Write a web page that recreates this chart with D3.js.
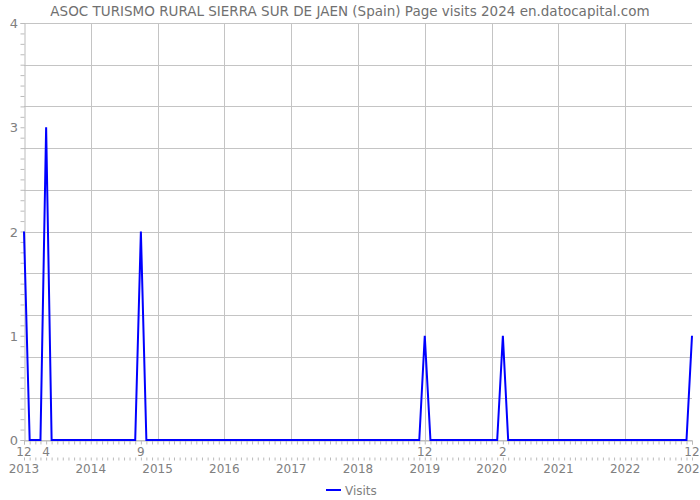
<!DOCTYPE html>
<html><head><meta charset="utf-8">
<script src="https://cdn.jsdelivr.net/npm/d3@7"></script>
<style>body{margin:0;background:#fff}svg{display:block}</style>
</head><body><svg id="c" width="700" height="500"></svg>
<script>
const title = "ASOC TURISMO RURAL SIERRA SUR DE JAEN (Spain) Page visits 2024 en.datocapital.com";
const seriesName = "Visits";
const startMonth = "2012-12";
// monthly visits Dec 2012 .. Dec 2022
const visits = [
  2,0,0,0,3,0,0,0,0,0,0,0,
  0,0,0,0,0,0,0,0,0,2,0,0,
  0,0,0,0,0,0,0,0,0,0,0,0,
  0,0,0,0,0,0,0,0,0,0,0,0,
  0,0,0,0,0,0,0,0,0,0,0,0,
  0,0,0,0,0,0,0,0,0,0,0,0,
  1,0,0,0,0,0,0,0,0,0,0,0,
  0,0,1,0,0,0,0,0,0,0,0,0,
  0,0,0,0,0,0,0,0,0,0,0,0,
  0,0,0,0,0,0,0,0,0,0,0,0,
  1
];
const yearLabels = ["2013","2014","2015","2016","2017","2018","2019","2020","2021","2022","2023"];
const yTickLabels = [0,1,2,3,4];

const FONT = "'DejaVu Sans', sans-serif";
const svg = d3.select("#c");
const L = 24, R = 692, T = 23, B = 440;

const start = d3.timeParse("%Y-%m")(startMonth);
const data = visits.map((v, i) => ({date: d3.timeMonth.offset(start, i), value: v}));
const end = data[data.length - 1].date;

const x = d3.scaleTime().domain([start, end]).range([L, R]);
const y = d3.scaleLinear().domain([0, 4]).range([B, T]);

// year positions (label year Y placed at December of Y-1)
const yearDates = yearLabels.map(s => new Date(+s - 1, 11, 1));

// horizontal grid
const hGrid = d3.range(0, 11).map(i => i * 0.4);
svg.append("g").selectAll("line").data(hGrid).join("line")
  .attr("x1", L).attr("x2", R)
  .attr("y1", d => Math.round(y(d)) + 0.5).attr("y2", d => Math.round(y(d)) + 0.5)
  .attr("stroke", "#c4c4c4").attr("stroke-width", 1);

// vertical grid
svg.append("g").selectAll("line").data(yearDates.slice(1, -1)).join("line")
  .attr("x1", d => Math.round(x(d)) + 0.5).attr("x2", d => Math.round(x(d)) + 0.5)
  .attr("y1", T).attr("y2", B)
  .attr("stroke", "#c4c4c4").attr("stroke-width", 1);

// y axis
const yAxis = d3.axisLeft(y).tickValues(d3.range(0, 41).map(i => i / 10)).tickSize(4).tickFormat("");
const gy = svg.append("g").attr("transform", `translate(${L + 0.5},0)`).call(yAxis);
gy.select(".domain").attr("stroke", "#bbb");
gy.selectAll(".tick line").attr("stroke", "#bbb");

svg.append("g").selectAll("text").data(yTickLabels).join("text")
  .attr("x", 18).attr("y", d => y(d) + 5)
  .attr("text-anchor", "end")
  .attr("font-family", FONT).attr("font-size", 13).attr("fill", "#808080")
  .text(d => d);

// x axis row 1 (month ticks)
const months = data.map(d => d.date);
const xAxis1 = d3.axisBottom(x).tickValues(months).tickSize(4).tickFormat("");
const gx1 = svg.append("g").attr("transform", `translate(0,${B + 0.5})`).call(xAxis1);
gx1.select(".domain").attr("stroke", "#bbb");
gx1.selectAll(".tick line").attr("stroke", "#bbb");

// peak month labels
const peaks = data.filter(d => d.value > 0);
svg.append("g").selectAll("text").data(peaks).join("text")
  .attr("x", d => x(d.date)).attr("y", 456)
  .attr("text-anchor", "middle")
  .attr("font-family", FONT).attr("font-size", 12).attr("fill", "#808080")
  .text(d => d3.timeFormat("%-m")(d.date));

// x axis row 2 ticks
const xAxis2 = d3.axisBottom(x).tickValues(months).tickSize(3).tickFormat("");
const gx2 = svg.append("g").attr("transform", `translate(0,457.5)`).call(xAxis2);
gx2.select(".domain").remove();
gx2.selectAll(".tick line").attr("stroke", "#bbb");

// year labels
svg.append("g").selectAll("text").data(yearDates).join("text")
  .attr("x", d => x(d)).attr("y", 473)
  .attr("text-anchor", "middle")
  .attr("font-family", FONT).attr("font-size", 12).attr("fill", "#808080")
  .text((d, i) => yearLabels[i]);

// line
const line = d3.line().x(d => x(d.date)).y(d => y(d.value));
svg.append("path").datum(data)
  .attr("d", line).attr("fill", "none")
  .attr("stroke", "#0000ff").attr("stroke-width", 2).attr("stroke-linejoin", "miter");

// title
svg.append("text").attr("x", 350).attr("y", 16).attr("text-anchor", "middle")
  .attr("font-family", FONT).attr("font-size", 13.5).attr("fill", "#707070")
  .text(title);

// legend
const lg = svg.append("g");
lg.append("line").attr("x1", 326).attr("x2", 341).attr("y1", 490).attr("y2", 490)
  .attr("stroke", "#0000ff").attr("stroke-width", 2);
lg.append("text").attr("x", 345).attr("y", 494.5)
  .attr("font-family", FONT).attr("font-size", 12).attr("fill", "#808080")
  .text(seriesName);
</script></body></html>
